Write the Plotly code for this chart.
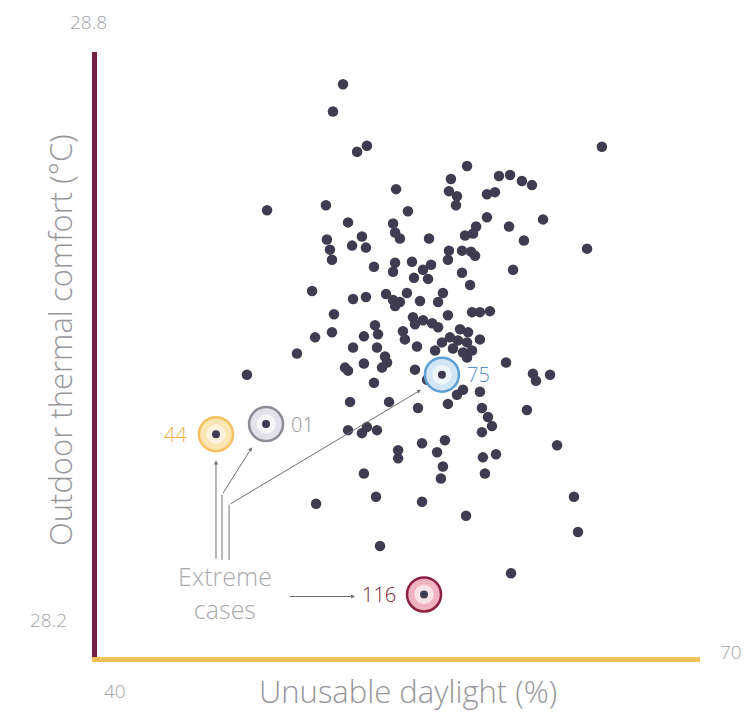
import plotly.graph_objects as go

# ---- data ----
daylight = [52.24, 51.74, 52.94, 53.43, 65.12, 58.41, 57.61, 57.51, 57.91, 57.86,
            60.00, 60.55, 61.14, 61.64, 54.88, 59.40, 59.80, 48.46, 51.39, 55.47,
            62.19, 59.40, 52.49, 60.50, 54.73, 54.83, 55.07, 56.52, 58.86, 58.71,
            58.31, 51.44, 51.59, 51.69, 53.18, 52.69, 53.38, 61.24, 64.38, 57.51,
            57.46, 58.16, 58.61, 58.81, 53.78, 54.83, 54.73, 55.67, 56.62, 56.22,
            55.77, 56.47, 58.16, 58.56, 60.70, 50.70, 52.74, 53.38, 54.38, 54.73,
            54.83, 55.07, 55.42, 56.07, 56.97, 57.21, 57.46, 58.66, 59.05, 59.55,
            51.79, 51.69, 50.85, 53.28, 53.83, 53.98, 55.22, 55.32, 55.72, 55.82,
            56.22, 56.67, 56.97, 58.06, 58.46, 57.56, 57.96, 58.41, 59.05, 57.16,
            56.82, 57.71, 58.21, 58.66, 58.41, 55.92, 49.95, 47.46, 52.74, 53.93,
            54.33, 54.43, 54.18, 52.34, 52.49, 53.28, 53.78, 55.82, 56.42, 60.35,
            61.69, 61.84, 62.54, 58.21, 57.91, 57.46, 59.05, 55.97, 54.53, 52.59,
            59.15, 59.45, 59.65, 59.15, 61.39, 52.49, 53.18, 53.43, 53.93, 56.17,
            57.31, 56.92, 54.98, 54.98, 57.21, 57.11, 59.20, 59.85, 59.30, 62.89,
            53.28, 53.88, 56.17, 50.90, 58.36, 63.73, 63.93, 54.08, 60.60]
comfort = [28.768, 28.741, 28.701, 28.707, 28.706, 28.687, 28.674, 28.662, 28.657, 28.648,
           28.677, 28.678, 28.672, 28.668, 28.664, 28.659, 28.661, 28.643, 28.648, 28.642,
           28.634, 28.636, 28.631, 28.627, 28.630, 28.621, 28.615, 28.615, 28.627, 28.620,
           28.618, 28.614, 28.604, 28.594, 28.617, 28.608, 28.606, 28.613, 28.605, 28.603,
           28.594, 28.603, 28.602, 28.598, 28.587, 28.591, 28.582, 28.592, 28.589, 28.584,
           28.576, 28.575, 28.581, 28.569, 28.584, 28.563, 28.555, 28.557, 28.560, 28.554,
           28.548, 28.552, 28.561, 28.553, 28.552, 28.561, 28.539, 28.542, 28.542, 28.543,
           28.540, 28.522, 28.517, 28.518, 28.529, 28.520, 28.523, 28.515, 28.537, 28.530,
           28.534, 28.531, 28.527, 28.525, 28.522, 28.517, 28.514, 28.512, 28.515, 28.512,
           28.504, 28.506, 28.502, 28.504, 28.497, 28.508, 28.501, 28.480, 28.507, 28.507,
           28.498, 28.492, 28.487, 28.487, 28.484, 28.491, 28.472, 28.485, 28.475, 28.492,
           28.481, 28.474, 28.480, 28.465, 28.460, 28.451, 28.463, 28.447, 28.453, 28.453,
           28.447, 28.438, 28.429, 28.423, 28.445, 28.425, 28.422, 28.428, 28.425, 28.412,
           28.415, 28.403, 28.405, 28.397, 28.389, 28.377, 28.398, 28.401, 28.382, 28.410,
           28.382, 28.359, 28.354, 28.352, 28.340, 28.359, 28.324, 28.310, 28.283]

case_ids = ["44", "01", "75", "116"]
case_daylight = [45.92, 48.41, 57.16, 56.27]
case_comfort = [28.421, 28.431, 28.480, 28.262]

x_ticks = [40, 70]
y_ticks = [28.2, 28.8]

# ---- styles ----
DOT = "#3f3c51"
FONT = "Open Sans"
W = 300
case_style = {
    "44":  dict(ring="#f3c25c", fill="#fbe6b3", inner="#fff5df", text="#eeb040", shift=-40),
    "01":  dict(ring="#8d8c95", fill="#e3e2ea", inner="#f6f6f9", text="#95959b", shift=36),
    "75":  dict(ring="#5f9fd3", fill="#d3e6f5", inner="#eef6fc", text="#558bc4", shift=37),
    "116": dict(ring="#8c2144", fill="#f1b3c0", inner="#fbe3e8", text="#7a1a38", shift=-45),
}

fig = go.Figure()
fig.add_trace(go.Scatter(x=daylight, y=comfort, mode="markers",
                         marker=dict(size=10.5, color=DOT, line=dict(width=0)),
                         hoverinfo="skip", showlegend=False))

annotations = []
for cid, cx, cy in zip(case_ids, case_daylight, case_comfort):
    s = case_style[cid]
    fig.add_trace(go.Scatter(x=[cx], y=[cy], mode="markers", showlegend=False, hoverinfo="skip",
                             marker=dict(size=34, color=s["fill"], line=dict(color=s["ring"], width=2.5))))
    fig.add_trace(go.Scatter(x=[cx], y=[cy], mode="markers", showlegend=False, hoverinfo="skip",
                             marker=dict(size=21, color=s["inner"], line=dict(color=s["fill"], width=1.5))))
    fig.add_trace(go.Scatter(x=[cx], y=[cy], mode="markers", showlegend=False, hoverinfo="skip",
                             marker=dict(size=8, color=DOT)))
    annotations.append(dict(x=cx, y=cy, xref="x", yref="y", text=cid, showarrow=False,
                            xshift=s["shift"], yshift=0, xanchor="center", yanchor="middle",
                            font=dict(family=FONT, size=20, color=s["text"], weight=W)))

GRAY_LINE = "#6f6f6f"
# "Extreme cases" label
annotations.append(dict(x=46.37, y=28.264, xref="x", yref="y", text="Extreme<br>cases",
                        showarrow=False, xanchor="center", yanchor="middle",
                        font=dict(family=FONT, size=25, color="#a9a9ad", weight=W)))
arrow_common = dict(xref="x", yref="y", axref="x", ayref="y", showarrow=True, arrowhead=2,
                    arrowsize=0.8, arrowwidth=1, arrowcolor=GRAY_LINE, text="")
annotations.append(dict(x=45.92, y=28.395, ax=45.92, ay=28.296, **arrow_common))   # to 44
annotations.append(dict(x=47.71, y=28.408, ax=46.22, ay=28.361, **arrow_common))   # to 01
annotations.append(dict(x=56.12, y=28.465, ax=46.57, ay=28.351, **arrow_common))   # to 75
annotations.append(dict(x=52.84, y=28.260, ax=49.50, ay=28.260, **arrow_common))   # to 116

shapes = [
    dict(type="line", xref="x", yref="y", x0=46.22, x1=46.22, y0=28.296, y1=28.361,
         line=dict(color=GRAY_LINE, width=1)),
    dict(type="line", xref="x", yref="y", x0=46.57, x1=46.57, y0=28.296, y1=28.351,
         line=dict(color=GRAY_LINE, width=1)),
]

TICK_FONT = dict(family=FONT, size=19, color="#a4a4a8", weight=W)
TITLE_FONT = dict(family=FONT, size=31, color="#96969b", weight=W)
annotations += [
    dict(x=x_ticks[0], y=y_ticks[1], xref="x", yref="y", text=f"{y_ticks[1]}", showarrow=False,
         xshift=-9, yshift=30, xanchor="center", yanchor="middle", font=TICK_FONT),
    dict(x=x_ticks[0], y=y_ticks[0], xref="x", yref="y", text=f"{y_ticks[0]}", showarrow=False,
         xshift=-49, yshift=37, xanchor="center", yanchor="middle", font=TICK_FONT),
    dict(x=x_ticks[0], y=y_ticks[0], xref="x", yref="y", text=f"{x_ticks[0]}", showarrow=False,
         xshift=18, yshift=-34, xanchor="center", yanchor="middle", font=TICK_FONT),
    dict(x=x_ticks[1], y=y_ticks[0], xref="x", yref="y", text=f"{x_ticks[1]}", showarrow=False,
         xshift=31, yshift=5, xanchor="center", yanchor="middle", font=TICK_FONT),
    dict(x=0.515, y=0, xref="paper", yref="paper", text="Unusable daylight (%)", showarrow=False,
         yshift=-34, xanchor="center", yanchor="middle", font=TITLE_FONT),
    dict(x=0, y=0.524, xref="paper", yref="paper", text="Outdoor thermal comfort (°C)",
         showarrow=False, textangle=-90, xshift=-37, xanchor="center", yanchor="middle",
         font=TITLE_FONT),
]

fig.update_layout(
    width=745, height=717,
    margin=dict(l=97, r=45, t=52, b=60),
    paper_bgcolor="white", plot_bgcolor="white",
    xaxis=dict(range=[x_ticks[0], x_ticks[1]], showgrid=False, zeroline=False,
               showticklabels=False, ticks="", showline=True, linecolor="#f4c157", linewidth=5,
               fixedrange=True),
    yaxis=dict(range=[y_ticks[0], y_ticks[1]], showgrid=False, zeroline=False,
               showticklabels=False, ticks="", showline=True, linecolor="#7b1e43", linewidth=5,
               fixedrange=True),
    annotations=annotations,
    shapes=shapes,
    showlegend=False,
)

fig.write_html("out.html", config={"displayModeBar": False},
               post_script="document.body.style.margin='0';")
